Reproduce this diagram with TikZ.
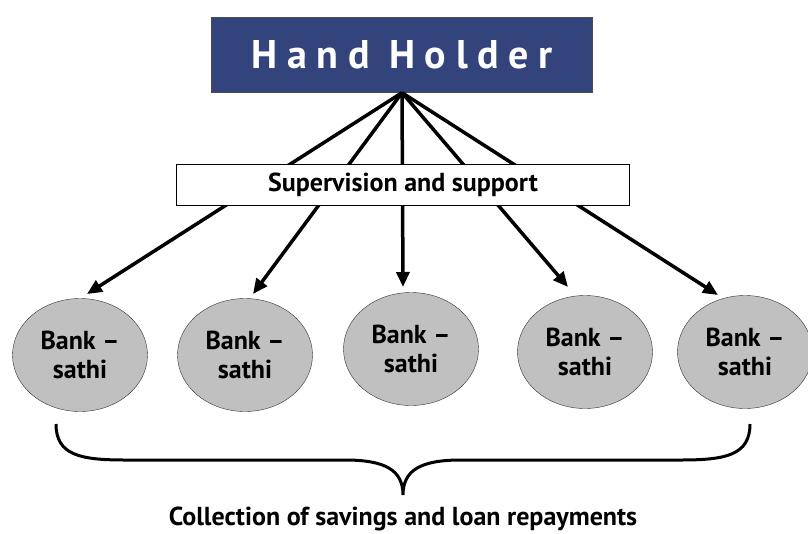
\documentclass[tikz,border=0pt]{standalone}
\usepackage{fontspec}
\setmainfont{PT Sans}
\usetikzlibrary{shapes.geometric, arrows.meta}
\definecolor{hhblue}{RGB}{51,67,124}
\definecolor{bsgray}{RGB}{192,192,192}
\def\bs{Bank --\\sathi}

\begin{document}
\begin{tikzpicture}[x=1pt, y=-1pt, font=\bfseries,
    sathi/.style={ellipse, draw=black!80, fill=bsgray, minimum width=135pt,
        minimum height=113pt, inner sep=0pt, align=center,
        font=\fontsize{26}{29}\bfseries\selectfont},
    arr/.style={line width=3.5pt, -{Triangle[length=15pt, width=13pt]}}]
    \useasboundingbox (0,0) rectangle (808,533);
    \node[draw=black!70, fill=hhblue, text=white, minimum width=381pt, minimum height=75pt,
        font=\fontsize{40}{44}\bfseries\addfontfeatures{LetterSpace=24}\selectfont]
        (hh) at (402,55) {Hand Holder};
    \node[sathi] (b1) at (80,355) {\bs};
    \node[sathi] (b2) at (245,355) {\bs};
    \node[sathi] (b3) at (411,349) {\bs};
    \node[sathi] (b4) at (585,352) {\bs};
    \node[sathi] (b5) at (745,352) {\bs};
    \coordinate (t1) at (87,294);
    \coordinate (t2) at (253,294);
    \coordinate (t3) at (403,287);
    \coordinate (t4) at (568,287);
    \coordinate (t5) at (718,295);
    \draw[arr] (hh.south) -- (t1);
    \draw[arr] (hh.south) -- (t2);
    \draw[arr] (hh.south) -- (t3);
    \draw[arr] (hh.south) -- (t4);
    \draw[arr] (hh.south) -- (t5);
    \node[draw, fill=white, minimum width=453pt, minimum height=41pt,
        font=\fontsize{26}{28}\bfseries\selectfont] (sup) at (403,185) {Supervision and support};
    % brace under the bank-sathis
    \coordinate (bl) at (56,424);
    \coordinate (br) at (750,424);
    \coordinate (bm) at (403,495);
    \draw[line width=3pt] (bl) .. controls (56,455) and (80,460) .. (125,460) -- (345,460)
        .. controls (385,460) and (403,470) .. (bm)
        .. controls (403,470) and (421,460) .. (461,460) -- (681,460)
        .. controls (726,460) and (750,455) .. (br);
    \node[font=\fontsize{26}{28}\bfseries\selectfont] (coll) at (403,519)
        {Collection of savings and loan repayments};
\end{tikzpicture}
\end{document}
